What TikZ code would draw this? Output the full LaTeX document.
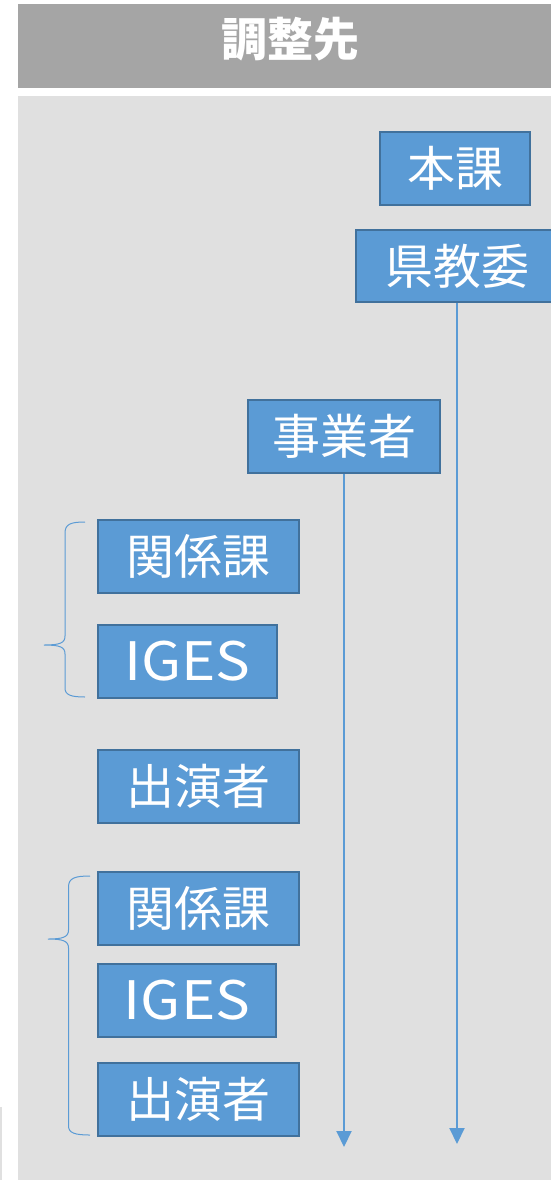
\documentclass[tikz,border=0pt]{standalone}
\usepackage{fontspec}
\newfontfamily\cjk{Noto Sans CJK JP}
\usetikzlibrary{arrows.meta}
\definecolor{headc}{HTML}{A5A5A5}
\definecolor{panelc}{HTML}{E0E0E0}
\definecolor{boxc}{HTML}{5B9BD5}
\definecolor{bordc}{HTML}{41719C}
\definecolor{linec}{HTML}{5B9BD5}
\newcommand{\bt}[1]{\raisebox{-3.5pt}{#1}}
\newcommand{\igestext}{\raisebox{-4pt}{\fontsize{53}{53}\selectfont\scalebox{1.1}[1]{IGES}}}
\tikzset{
  box/.style={draw=bordc, fill=boxc, line width=2pt, text=white,
    font=\cjk\fontsize{48}{48}\selectfont, inner sep=0pt, minimum height=73pt},
  arr/.style={draw=linec, line width=2pt, -{Triangle[width=15pt,length=16pt]}},
  brace/.style={draw=linec, line width=1pt},
}
\begin{document}
\begin{tikzpicture}[x=1pt,y=-1pt]
\useasboundingbox (0,0) rectangle (551,1180);
% background
\fill[headc] (18,4) rectangle (565,88);
\fill[panelc] (18,96) rectangle (565,1190);
\fill[panelc] (0,1107) rectangle (2,1190);
\node[text=white, inner sep=0pt, font=\cjk\bfseries\fontsize{46}{46}\selectfont] (head) at (290,39) {調整先};
% boxes
\node[box, minimum width=150pt] (honka) at (455,168.5) {\bt{本課}};
\node[box, minimum width=202pt, minimum height=72pt] (ken) at (457,266) {\bt{県教委}};
\node[box, minimum width=192pt] (jig) at (344,436.5) {\bt{事業者}};
\node[box, minimum width=201pt] (kan1) at (198.5,556.5) {\bt{関係課}};
\node[box, minimum width=179pt] (iges1) at (187.5,661.5) {\igestext};
\node[box, minimum width=201pt] (shu1) at (198.5,786.5) {\bt{出演者}};
\node[box, minimum width=201pt] (kan2) at (198.5,908.5) {\bt{関係課}};
\node[box, minimum width=178pt] (iges2) at (187,1000) {\igestext};
\node[box, minimum width=201pt] (shu2) at (198.5,1099) {\bt{出演者}};
% arrows
\coordinate (kenend) at (457,1144);
\coordinate (jigend) at (344,1147);
\draw[arr] (ken.south) -- (kenend);
\draw[arr] (jig.south) -- (jigend);
% braces
\draw[brace] (85,522) .. controls (71,522) and (65,524) .. (65,533) -- (65,636)
  .. controls (65,643) and (60,645) .. (44,645)
  .. controls (60,645) and (65,647) .. (65,654) -- (65,688)
  .. controls (65,695) and (71,697) .. (85,697);
\draw[brace] (90,876) .. controls (75,876) and (68.5,878) .. (68.5,887) -- (68.5,930)
  .. controls (68.5,937) and (63,939) .. (48,939)
  .. controls (63,939) and (68.5,941) .. (68.5,948) -- (68.5,1126)
  .. controls (68.5,1133) and (75,1135) .. (90,1135);
\end{tikzpicture}
\end{document}
